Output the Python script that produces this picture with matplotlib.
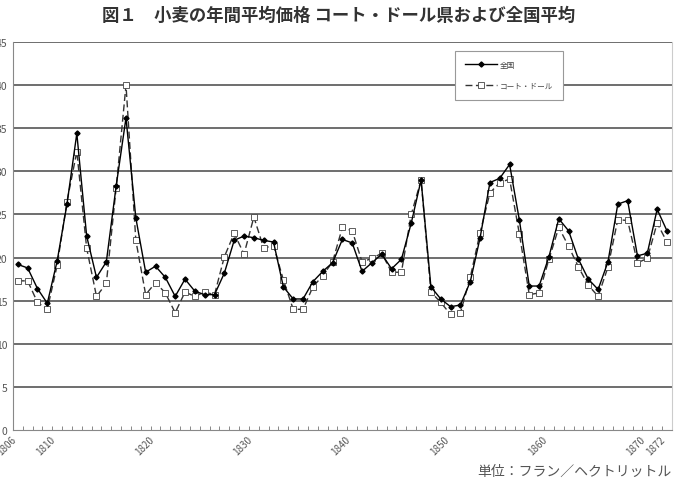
"""
図１ 小麦の年間平均価格（コート・ドール県および全国平均）
"""
import matplotlib
matplotlib.use("Agg")
import matplotlib.pyplot as plt
import numpy as np

plt.rcParams['font.family'] = ['Noto Sans CJK JP', 'DejaVu Sans']

# Données (francs / hectolitre)
annees = list(range(1806, 1873))
zenkoku = [19.2, 18.8, 16.4, 14.7, 19.6, 26.2, 34.4, 22.5, 17.7, 19.5,
           28.3, 36.2, 24.6, 18.3, 19.0, 17.7, 15.5, 17.5, 16.1, 15.7,
           15.7, 18.2, 22.0, 22.5, 22.3, 22.0, 21.8, 16.6, 15.2, 15.2,
           17.2, 18.4, 19.4, 22.1, 21.7, 18.4, 19.4, 20.4, 18.7, 19.8,
           24.0, 29.0, 16.6, 15.2, 14.3, 14.5, 17.2, 22.3, 28.7, 29.2,
           30.8, 24.3, 16.7, 16.7, 20.1, 24.5, 23.1, 19.8, 17.5, 16.3,
           19.5, 26.2, 26.6, 20.2, 20.5, 25.6, 23.1]
cote_dor = [17.3, 17.3, 14.8, 14.0, 19.1, 26.5, 32.3, 21.1, 15.5, 17.0,
            28.1, 40.0, 22.0, 15.7, 17.1, 15.9, 13.6, 16.0, 15.5, 16.0,
            15.7, 20.1, 22.8, 20.4, 24.7, 21.1, 21.4, 17.4, 14.0, 14.0,
            16.6, 17.9, 19.5, 23.5, 23.1, 19.5, 19.9, 20.5, 18.3, 18.3,
            25.0, 29.0, 16.0, 14.8, 13.4, 13.6, 17.7, 22.9, 27.5, 28.7,
            29.1, 22.7, 15.7, 15.9, 19.8, 23.5, 21.3, 18.9, 16.8, 15.5,
            18.9, 24.4, 24.3, 19.4, 19.9, 24.0, 21.8]
annees_etiquettes = [1806, 1810, 1820, 1830, 1840, 1850, 1860, 1870, 1872]
y_ticks = list(range(0, 50, 5))

fig = plt.figure(figsize=(6.78, 4.85), dpi=100)
ax = fig.add_axes([0.019, 0.1113, 0.972, 0.8])

# Grille horizontale
for v in y_ticks[1:]:
    ax.axhline(v, color='#555555', linewidth=1.2, zorder=1)

# Séries
ax.plot(annees, zenkoku, '-', color='black', linewidth=1.0,
        marker='D', markersize=2.6, markerfacecolor='black',
        markeredgecolor='black', label='全国', zorder=4)
ax.plot(annees, cote_dor, '--', color='#333333', linewidth=1.0,
        dashes=(5, 2.5), marker='s', markersize=4.0, markerfacecolor='white',
        markeredgecolor='#444444', markeredgewidth=0.6,
        label='コート・ドール', zorder=3)

# Axes
ax.set_xlim(1805.5, 1872.5)
ax.set_ylim(0, 45)
ax.set_yticks(y_ticks)
ax.set_yticklabels([str(v) for v in y_ticks], fontsize=7.5, color='#555555')
ax.tick_params(axis='y', length=0, pad=4)

ax.set_xticks(annees_etiquettes)
ax.set_xticklabels([str(a) for a in annees_etiquettes], rotation=45,
                   ha='right', va='top', fontsize=7, color='#555555')
ax.tick_params(axis='x', which='major', length=0, pad=3)
ax.set_xticks(np.arange(1805.5, 1873, 1.0), minor=True)
ax.tick_params(axis='x', which='minor', direction='in', length=3,
               color='#888888', width=0.7)

ax.spines['top'].set_visible(False)
ax.spines['left'].set_color('#888888')
ax.spines['bottom'].set_color('#888888')
ax.spines['right'].set_color('#cccccc')

# Légende
leg = ax.legend(loc='upper left', bbox_to_anchor=(0.671, 0.977),
                fontsize=5.5, frameon=True, fancybox=False,
                edgecolor='#999999', handlelength=4.2, borderpad=1.3,
                labelspacing=1.7, borderaxespad=0, handletextpad=0.4)
leg.get_frame().set_linewidth(0.8)
leg.get_frame().set_facecolor('white')
leg.get_frame().set_alpha(1)
leg.set_zorder(5)
for t in leg.get_texts():
    t.set_color('#444444')

# Textes
fig.text(0.5, 0.985, '図１　小麦の年間平均価格 コート・ドール県および全国平均',
         ha='center', va='top', fontsize=12.5, fontweight='bold', color='#333333')
fig.text(0.991, 0.012, '単位：フラン／ヘクトリットル', ha='right', va='bottom',
         fontsize=10, color='#555555')

fig.savefig('out.png', dpi=100)
